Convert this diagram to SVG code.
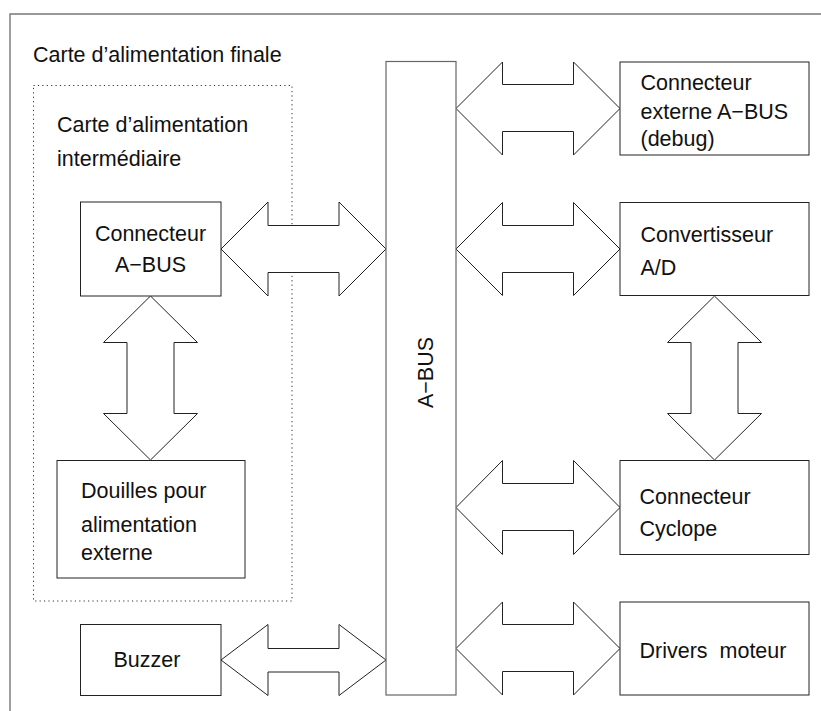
<svg xmlns="http://www.w3.org/2000/svg" width="821" height="711" viewBox="0 0 821 711">
  <style>
    .frame { fill: none; stroke: #777; stroke-width: 1.4; }
    .box { fill: #fff; stroke: #222; stroke-width: 1; }
    .bus { fill: #fff; stroke: #666; stroke-width: 1.2; }
    .zone { fill: none; stroke: #333; stroke-width: 1; stroke-dasharray: 1.2 3.2; }
    .arrow { fill: #fff; stroke: #222; stroke-width: 1; stroke-linejoin: miter; }
    text { font-family: "Liberation Sans", Arial, Helvetica, sans-serif; font-size: 21.5px; fill: #111; }
  </style>
  <rect width="821" height="711" fill="#fff"/>

  <!-- outer board frame (open to the right and bottom) -->
  <g id="carte-finale">
    <polyline class="frame" points="10,711 10,14 821,14"/>
    <text x="33" y="61.5">Carte d’alimentation finale</text>
  </g>

  <!-- intermediate board outline -->
  <g id="carte-intermediaire">
    <rect class="zone" x="33.5" y="85.5" width="258.5" height="515.5"/>
    <text x="57" y="131.5">Carte d’alimentation</text>
    <text x="57" y="165.5">intermédiaire</text>
  </g>

  <!-- connectors -->
  <g id="connectors">
    <!-- Connecteur A-BUS <-> A-BUS -->
    <polygon class="arrow" points="221,249 268,202 268,225.5 339,225.5 339,202 386,249 339,296 339,272.5 268,272.5 268,296"/>
    <!-- Buzzer <-> A-BUS -->
    <polygon class="arrow" points="221,660 268,624.5 268,648.5 339,648.5 339,624.5 386,660 339,695.5 339,672 268,672 268,695.5"/>
    <!-- Connecteur A-BUS <-> Douilles -->
    <polygon class="arrow" points="150.5,296 197.5,342.5 174,342.5 174,413.5 197.5,413.5 150.5,460 103.5,413.5 127,413.5 127,342.5 103.5,342.5"/>
    <!-- A-BUS <-> Connecteur externe -->
    <polygon class="arrow" points="456,108.5 502.5,62 502.5,84.5 573.5,84.5 573.5,62 620,108.5 573.5,155 573.5,131.5 502.5,131.5 502.5,155"/>
    <!-- A-BUS <-> Convertisseur -->
    <polygon class="arrow" points="456,249 502.5,202.5 502.5,225.5 573.5,225.5 573.5,202.5 620,249 573.5,295.5 573.5,272.5 502.5,272.5 502.5,295.5"/>
    <!-- A-BUS <-> Connecteur Cyclope -->
    <polygon class="arrow" points="456,507.5 502.5,460.5 502.5,483.5 573.5,483.5 573.5,460.5 620,507.5 573.5,554.5 573.5,530.5 502.5,530.5 502.5,554.5"/>
    <!-- A-BUS <-> Drivers moteur -->
    <polygon class="arrow" points="456,648.5 502.5,602 502.5,624.5 573.5,624.5 573.5,602 620,648.5 573.5,695 573.5,671.5 502.5,671.5 502.5,695"/>
    <!-- Convertisseur <-> Connecteur Cyclope -->
    <polygon class="arrow" points="714.5,296 761.5,342.5 738,342.5 738,413.5 761.5,413.5 714.5,460 667.5,413.5 691,413.5 691,342.5 667.5,342.5"/>
  </g>

  <g id="a-bus">
    <rect class="bus" x="386" y="61.5" width="70" height="633.5"/>
    <text transform="translate(433 372.5) rotate(-90)" text-anchor="middle">A−BUS</text>
  </g>

  <g id="connecteur-abus">
    <rect class="box" x="80.5" y="202" width="140.5" height="94"/>
    <text x="150.5" y="240.5" text-anchor="middle">Connecteur</text>
    <text x="150.5" y="271.5" text-anchor="middle">A−BUS</text>
  </g>

  <g id="douilles">
    <rect class="box" x="57" y="460.5" width="188" height="117.5"/>
    <text x="81" y="498.3">Douilles pour</text>
    <text x="81" y="531.5">alimentation</text>
    <text x="81" y="560">externe</text>
  </g>

  <g id="buzzer">
    <rect class="box" x="80.5" y="624.5" width="140.5" height="71"/>
    <text x="113.5" y="666.5">Buzzer</text>
  </g>

  <g id="connecteur-externe">
    <rect class="box" x="620" y="62" width="189" height="93"/>
    <text x="640.5" y="89.5">Connecteur</text>
    <text x="640.5" y="119">externe A−BUS</text>
    <text x="640.5" y="146">(debug)</text>
  </g>

  <g id="convertisseur">
    <rect class="box" x="620" y="202.5" width="189" height="93"/>
    <text x="640.5" y="241.5">Convertisseur</text>
    <text x="640.5" y="275">A/D</text>
  </g>

  <g id="connecteur-cyclope">
    <rect class="box" x="620" y="460.5" width="189" height="94"/>
    <text x="639.5" y="503.5">Connecteur</text>
    <text x="639.5" y="536">Cyclope</text>
  </g>

  <g id="drivers-moteur">
    <rect class="box" x="620" y="602" width="189" height="93"/>
    <text x="639.5" y="657.5" xml:space="preserve">Drivers  moteur</text>
  </g>
</svg>
